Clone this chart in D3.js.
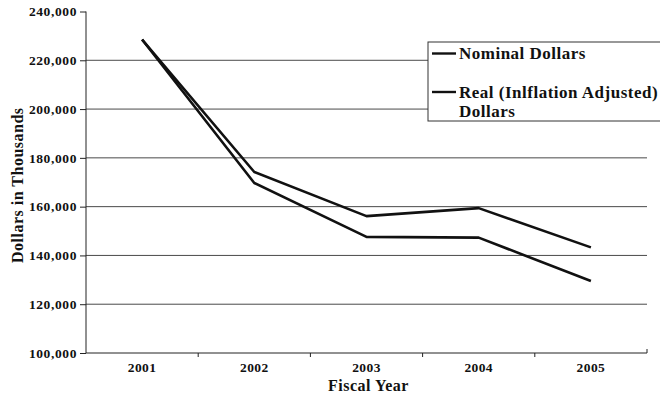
<!DOCTYPE html>
<html>
<head>
<meta charset="utf-8">
<script src="https://cdn.jsdelivr.net/npm/d3@7"></script>
<style>
  html, body { margin: 0; padding: 0; background: #fff; }
  svg { display: block; }
  svg text { font-family: "Times New Roman", "Liberation Serif", Times, "DejaVu Serif", serif; font-weight: 700; fill: #111; }
</style>
</head>
<body>
<svg id="chart" width="660" height="400"></svg>
<script>
// Fiscal years and spending (dollars in thousands)
const years = ["2001", "2002", "2003", "2004", "2005"];
const nominal = [228500, 174200, 156100, 159400, 143300];
const real = [228500, 169700, 147600, 147300, 129500];
const yTicks = [100000, 120000, 140000, 160000, 180000, 200000, 220000, 240000];
const seriesNames = ["Nominal Dollars", "Real (Inlflation Adjusted)\nDollars"];

const serif = '"Times New Roman", "Liberation Serif", Times, "DejaVu Serif", serif';
const svg = d3.select("#chart").attr("font-family", serif);
const plotLeft = 86, plotRight = 647, plotTop = 11.5, plotBottom = 353;

const x = d3.scaleBand().domain(years).range([plotLeft, plotRight]).padding(0);
const y = d3.scaleLinear().domain([100000, 240000]).range([plotBottom, plotTop]);
const fmt = d3.format(",");

// horizontal gridlines
svg.append("g")
  .selectAll("line")
  .data(yTicks.filter(v => v > 100000 && v < 240000))
  .join("line")
  .attr("x1", plotLeft).attr("x2", plotRight)
  .attr("y1", d => y(d)).attr("y2", d => y(d))
  .attr("stroke", "#4a4a4a").attr("stroke-width", 1);

// y axis
const yAxis = svg.append("g")
  .attr("transform", `translate(${plotLeft},0)`)
  .call(d3.axisLeft(y).tickValues(yTicks).tickFormat(fmt).tickSize(6).tickPadding(3))
  .attr("font-family", serif);
yAxis.select(".domain").attr("stroke", "#222").attr("d", `M0,${plotTop}V${plotBottom}`);
yAxis.selectAll(".tick line").attr("stroke", "#222");
yAxis.selectAll(".tick text")
  .style("font-size", "13.5px").style("font-family", serif)
  .style("letter-spacing", "0.6px").attr("fill", "#111");

// x axis
const xAxis = svg.append("g")
  .attr("transform", `translate(0,${plotBottom})`)
  .call(d3.axisBottom(x).tickSize(0).tickPadding(9))
  .attr("font-family", serif);
xAxis.select(".domain").attr("stroke", "#222").attr("d", `M${plotLeft},0H${plotRight}V-4`);
xAxis.selectAll(".tick text")
  .style("font-size", "13.5px").style("font-family", serif)
  .style("letter-spacing", "0.4px").attr("fill", "#111");
// tick marks between categories
xAxis.append("g")
  .selectAll("line")
  .data(years.slice(1))
  .join("line")
  .attr("x1", d => x(d)).attr("x2", d => x(d))
  .attr("y1", 0).attr("y2", 4)
  .attr("stroke", "#222");

// axis titles
svg.append("text")
  .attr("x", (plotLeft + plotRight) / 2 + 2).attr("y", 391)
  .attr("text-anchor", "middle")
  .style("font-size", "16px").style("letter-spacing", "0.5px")
  .text("Fiscal Year");
svg.append("text")
  .attr("transform", `translate(23,${(plotTop + plotBottom) / 2 + 3}) rotate(-90)`)
  .attr("text-anchor", "middle")
  .style("font-size", "16px").style("letter-spacing", "0.5px")
  .text("Dollars in Thousands");

// data lines
const line = d3.line()
  .x((d, i) => x(years[i]) + x.bandwidth() / 2)
  .y(d => y(d));
[nominal, real].forEach(s => {
  svg.append("path")
    .datum(s)
    .attr("d", line)
    .attr("fill", "none")
    .attr("stroke", "#111")
    .attr("stroke-width", 2.6)
    .attr("stroke-linejoin", "round");
});

// legend
const lg = svg.append("g");
lg.append("rect")
  .attr("x", 428).attr("y", 42)
  .attr("width", 240).attr("height", 79)
  .attr("fill", "#fff").attr("stroke", "#333").attr("stroke-width", 1);
const rowY = [53.5, 92];
seriesNames.forEach((name, i) => {
  lg.append("line")
    .attr("x1", 432).attr("x2", 456)
    .attr("y1", rowY[i]).attr("y2", rowY[i])
    .attr("stroke", "#111").attr("stroke-width", 2.4);
  const t = lg.append("text")
    .attr("x", 459).attr("y", rowY[i] + 5.5)
    .style("font-size", "17px").style("letter-spacing", "0.5px");
  name.split("\n").forEach((part, j) => {
    t.append("tspan").attr("x", 459).attr("dy", j === 0 ? 0 : 19).text(part);
  });
});
</script>
</body>
</html>
